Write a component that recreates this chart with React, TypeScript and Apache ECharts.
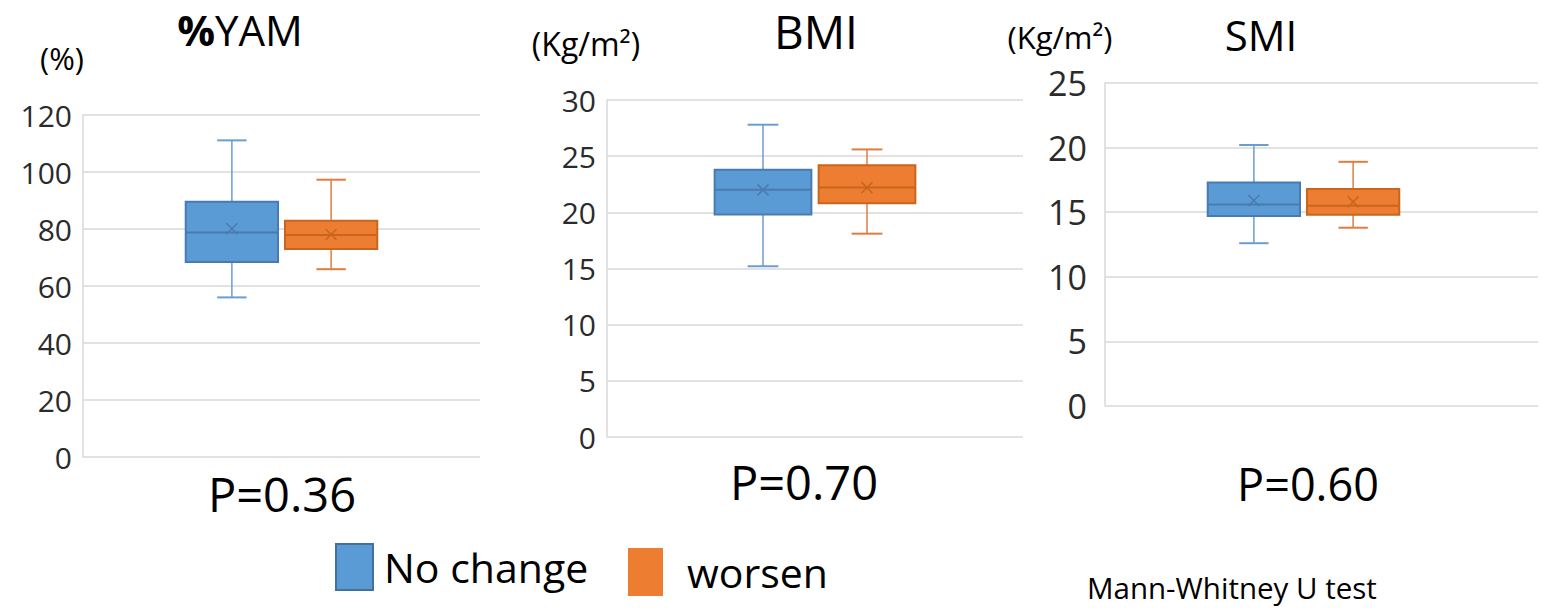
import React, { useEffect, useRef } from 'react';
import * as echarts from 'echarts';

// ---- data ----
const GROUPS = ['No change', 'worsen'];
const SLOTS = ['', 'No change', 'worsen', ' '];

// five-number summaries: min, Q1, median, Q3, max
const YAM_NO_CHANGE = [56.0, 68.4, 78.8, 89.6, 111.1];
const YAM_WORSEN = [65.9, 73.0, 77.9, 82.9, 97.3];
const YAM_MEANS = [80.1, 78.1];

const BMI_NO_CHANGE = [15.2, 19.8, 22.0, 23.8, 27.8];
const BMI_WORSEN = [18.1, 20.8, 22.2, 24.2, 25.6];
const BMI_MEANS = [22.0, 22.2];

const SMI_NO_CHANGE = [12.6, 14.7, 15.6, 17.3, 20.2];
const SMI_WORSEN = [13.8, 14.8, 15.5, 16.8, 18.9];
const SMI_MEANS = [15.9, 15.8];

const YAM_AXIS = [0, 120, 20];
const BMI_AXIS = [0, 30, 5];
const SMI_AXIS = [0, 25, 5];

const TITLES = ['%YAM', 'BMI', 'SMI'];
const UNITS = ['(%)', '(Kg/m²)', '(Kg/m²)'];
const P_VALUES = ['P=0.36', 'P=0.70', 'P=0.60'];
const TEST_NOTE = 'Mann-Whitney U test';

// ---- styles ----
const FONT = '"Open Sans", "Noto Sans", sans-serif';
const FILL = ['#5B9BD5', '#ED7D31'];
const EDGE = ['#4A7BB0', '#C8661F'];
const WHISK = ['#6C9DD0', '#DD7E40'];
const GRIDLINE = '#d9d9d9';

const rows = (a: number[], b: number[], means: number[]) => [
  [GROUPS[0], ...a, means[0]],
  [GROUPS[1], ...b, means[1]],
];

function renderBox(params: any, api: any) {
  const cat = api.value(0);
  const mn = api.value(1);
  const q1 = api.value(2);
  const md = api.value(3);
  const q3 = api.value(4);
  const mx = api.value(5);
  const mean = api.value(6);
  const band = api.size([1, 0])[0];
  const cx = api.coord([cat, md])[0];
  const y = (v: number) => api.coord([cat, v])[1];
  const half = band * 0.465;
  const cap = band * 0.148;
  const k = params.dataIndex;
  const m = 5.5;
  const ln = (x1: number, y1: number, x2: number, y2: number, stroke: string, w = 1.5) => ({
    type: 'line',
    shape: { x1, y1, x2, y2 },
    style: { stroke, lineWidth: w },
  });
  const ym = y(mean);
  return {
    type: 'group',
    children: [
      ln(cx, y(mx), cx, y(q3), WHISK[k]),
      ln(cx, y(q1), cx, y(mn), WHISK[k]),
      ln(cx - cap, y(mx), cx + cap, y(mx), WHISK[k], 2),
      ln(cx - cap, y(mn), cx + cap, y(mn), WHISK[k], 2),
      {
        type: 'rect',
        shape: { x: cx - half, y: y(q3), width: half * 2, height: y(q1) - y(q3) },
        style: { fill: FILL[k], stroke: EDGE[k], lineWidth: 2 },
      },
      ln(cx - half, y(md), cx + half, y(md), EDGE[k], 2),
      ln(cx - m, ym - m, cx + m, ym + m, EDGE[k], 1.5),
      ln(cx - m, ym + m, cx + m, ym - m, EDGE[k], 1.5),
    ],
  };
}

export default function App() {
  const ref = useRef<HTMLDivElement>(null);

  useEffect(() => {
    if (!ref.current) return;
    const chart = echarts.init(ref.current, null, { renderer: 'svg' });

    const grids = [
      { left: 83, top: 115, width: 397, height: 342 },
      { left: 607, top: 100, width: 416, height: 337 },
      { left: 1105, top: 83, width: 433, height: 323 },
      { left: 1105, top: 83, width: 397, height: 323 },
    ].map((g) => ({ ...g, outerBoundsMode: 'none', containLabel: false }));

    const xAxes = grids.map((_, i) => ({
      type: 'category',
      gridIndex: i,
      data: SLOTS,
      boundaryGap: true,
      axisLine: { show: false },
      axisTick: { show: false },
      axisLabel: { show: false },
      splitLine: { show: false },
    }));

    const axisDefs = [YAM_AXIS, BMI_AXIS, SMI_AXIS, SMI_AXIS];
    const labelSize = [30, 30, 34, 34];
    const labelMargin = [11, 11, 18, 18];
    const yAxes = axisDefs.map((d, i) => ({
      type: 'value',
      gridIndex: i,
      min: d[0],
      max: d[1],
      interval: d[2],
      show: i < 3,
      axisLine: { show: true, lineStyle: { color: GRIDLINE, width: 1.5 } },
      axisTick: { show: false },
      axisLabel: {
        fontSize: labelSize[i],
        fontFamily: FONT,
        color: '#2b2b2b',
        margin: labelMargin[i],
      },
      splitLine: { show: true, lineStyle: { color: GRIDLINE, width: 1.5 } },
    }));

    const boxSeries = [
      { grid: 0, data: rows(YAM_NO_CHANGE, YAM_WORSEN, YAM_MEANS) },
      { grid: 1, data: rows(BMI_NO_CHANGE, BMI_WORSEN, BMI_MEANS) },
      { grid: 3, data: rows(SMI_NO_CHANGE, SMI_WORSEN, SMI_MEANS) },
    ].map((s) => ({
      type: 'custom',
      xAxisIndex: s.grid,
      yAxisIndex: s.grid,
      dimensions: ['group', 'min', 'Q1', 'median', 'Q3', 'max', 'mean'],
      encode: { x: 0, y: [1, 2, 3, 4, 5, 6] },
      data: s.data,
      renderItem: renderBox,
      clip: false,
      silent: true,
    }));

    const legendSeries = GROUPS.map((name, i) => ({
      type: 'bar',
      name,
      data: [],
      xAxisIndex: 0,
      yAxisIndex: 0,
      itemStyle: {
        color: FILL[i],
        borderColor: i === 0 ? '#41719C' : FILL[i],
        borderWidth: i === 0 ? 2 : 0,
      },
    }));

    const txt = (text: string, x: number, y: number, size: number, align = 'center', extra: any = {}) => ({
      type: 'text',
      x,
      y,
      silent: true,
      style: {
        text,
        fontSize: size,
        fontFamily: FONT,
        fill: '#000',
        align,
        verticalAlign: 'middle',
        textAlign: align,
        textVerticalAlign: 'middle',
        ...extra,
      },
    });

    const graphics = [
      txt('{b|%}' + TITLES[0].slice(1), 240, 29, 42, 'center', {
        rich: { b: { fontWeight: 'bold', fontSize: 42, fontFamily: FONT, fill: '#000' } },
      }),
      txt(TITLES[1], 816, 31, 46),
      txt(TITLES[2], 1261, 34, 42),
      txt(UNITS[0], 62, 58, 31),
      txt(UNITS[1], 586, 43, 32),
      txt(UNITS[2], 1060, 37, 31),
      txt(P_VALUES[0], 282, 494, 47),
      txt(P_VALUES[1], 804, 482, 47),
      txt(P_VALUES[2], 1308, 483, 45),
      txt(TEST_NOTE, 1087, 587, 29.5, 'left'),
    ];

    const legendBase = {
      orient: 'horizontal',
      padding: 0,
      icon: 'rect',
      selectedMode: false,
      textStyle: { fontSize: 41, fontFamily: FONT, color: '#000' },
    };

    chart.setOption({
      animation: false,
      backgroundColor: '#fff',
      grid: grids,
      xAxis: xAxes,
      yAxis: yAxes,
      legend: [
        {
          ...legendBase,
          data: [GROUPS[0]],
          left: 335,
          top: 543,
          itemWidth: 37,
          itemHeight: 46,
          textStyle: { ...legendBase.textStyle, padding: [0, 0, 0, 6] },
        },
        {
          ...legendBase,
          data: [GROUPS[1]],
          left: 628,
          top: 548,
          itemWidth: 35,
          itemHeight: 48,
          textStyle: { ...legendBase.textStyle, padding: [0, 0, 0, 19] },
        },
      ],
      graphic: graphics,
      series: [...boxSeries, ...legendSeries],
    });

    return () => chart.dispose();
  }, []);

  return (
    <div
      ref={ref}
      style={{ position: 'fixed', left: 0, top: 0, width: 1541, height: 608, background: '#fff' }}
    />
  );
}
